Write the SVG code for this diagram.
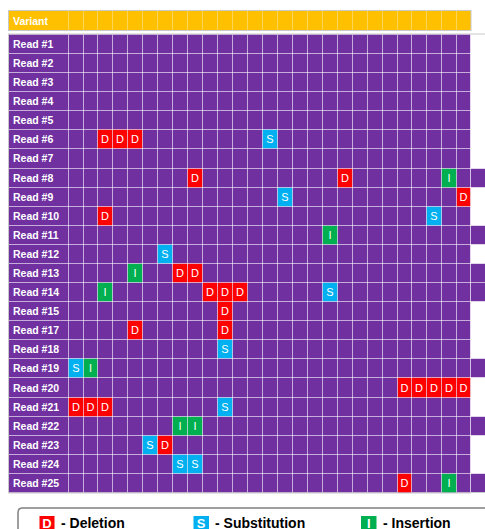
<svg xmlns="http://www.w3.org/2000/svg" width="485" height="529" viewBox="0 0 485 529">
<style>
.bg{fill:#7030A0}
.hdr{fill:#FFC000}
.d{fill:#FF0000}
.s{fill:#00B0F0}
.i{fill:#00B050}
.grid{stroke:#FFFFFF;stroke-opacity:0.6;stroke-width:1;fill:none}
.hgrid{stroke:#FFFFFF;stroke-opacity:0.35;stroke-width:1;fill:none}
.frame{stroke:#C8C8C8;stroke-width:1;fill:none}
.lbl{font-family:"Liberation Sans",Arial,sans-serif;font-weight:bold;font-size:10.5px;fill:#FFFFFF}
.m{font-family:"Liberation Sans",Arial,sans-serif;font-size:11px;fill:#FFFFFF;text-anchor:middle}
.lg{font-family:"Liberation Sans",Arial,sans-serif;font-weight:bold;font-size:14px;fill:#000000}
.lgm{font-family:"Liberation Sans",Arial,sans-serif;font-weight:bold;font-size:13px;fill:#FFFFFF;text-anchor:middle}
</style>

<g id="header">
<rect class="hdr" x="9" y="11" width="462" height="19"/>
<path class="hgrid" d="M68.5 11V30M83.5 11V30M97.5 11V30M112.5 11V30M127.5 11V30M142.5 11V30M157.5 11V30M172.5 11V30M187.5 11V30M202.5 11V30M217.5 11V30M232.5 11V30M247.5 11V30M262.5 11V30M277.5 11V30M292.5 11V30M307.5 11V30M322.5 11V30M337.5 11V30M352.5 11V30M367.5 11V30M382.5 11V30M397.5 11V30M411.5 11V30M426.5 11V30M441.5 11V30M456.5 11V30"/>
<rect class="frame" x="8.5" y="10.5" width="462.5" height="20"/>
<text class="lbl" x="13" y="24.5">Variant</text>
</g>

<g id="grid-background">
<rect class="bg" x="9" y="34.5" width="461.5" height="458"/>
<rect class="bg" x="470.5" y="168.5" width="15" height="19"/>
<rect class="bg" x="470.5" y="225.5" width="15" height="19"/>
<rect class="bg" x="470.5" y="263.5" width="15" height="38"/>
<rect class="bg" x="470.5" y="358.5" width="15" height="19"/>
<rect class="bg" x="470.5" y="416.5" width="15" height="19"/>
<rect class="bg" x="470.5" y="473.5" width="15" height="19"/>
</g>

<g id="marks">
<g id="r6"><rect class="d" x="97.5" y="129.5" width="15" height="19"/><rect class="d" x="112.5" y="129.5" width="15" height="19"/><rect class="d" x="127.5" y="129.5" width="15" height="19"/><rect class="s" x="262.5" y="129.5" width="15" height="19"/></g>
<g id="r8"><rect class="d" x="187.5" y="168.5" width="15" height="19"/><rect class="d" x="337.5" y="168.5" width="15" height="19"/><rect class="i" x="441.5" y="168.5" width="15" height="19"/></g>
<g id="r9"><rect class="s" x="277.5" y="187.5" width="15" height="19"/><rect class="d" x="456.5" y="187.5" width="14" height="19"/></g>
<g id="r10"><rect class="d" x="97.5" y="206.5" width="15" height="19"/><rect class="s" x="426.5" y="206.5" width="15" height="19"/></g>
<g id="r11"><rect class="i" x="322.5" y="225.5" width="15" height="19"/></g>
<g id="r12"><rect class="s" x="157.5" y="244.5" width="15" height="19"/></g>
<g id="r13"><rect class="i" x="127.5" y="263.5" width="15" height="19"/><rect class="d" x="172.5" y="263.5" width="15" height="19"/><rect class="d" x="187.5" y="263.5" width="15" height="19"/></g>
<g id="r14"><rect class="i" x="97.5" y="282.5" width="15" height="19"/><rect class="d" x="202.5" y="282.5" width="15" height="19"/><rect class="d" x="217.5" y="282.5" width="15" height="19"/><rect class="d" x="232.5" y="282.5" width="15" height="19"/><rect class="s" x="322.5" y="282.5" width="15" height="19"/></g>
<g id="r15"><rect class="d" x="217.5" y="301.5" width="15" height="19"/></g>
<g id="r17"><rect class="d" x="127.5" y="320.5" width="15" height="19"/><rect class="d" x="217.5" y="320.5" width="15" height="19"/></g>
<g id="r18"><rect class="s" x="217.5" y="339.5" width="15" height="19"/></g>
<g id="r19"><rect class="s" x="68.5" y="358.5" width="15" height="19"/><rect class="i" x="83.5" y="358.5" width="14" height="19"/></g>
<g id="r20"><rect class="d" x="397.5" y="377.5" width="14" height="20"/><rect class="d" x="411.5" y="377.5" width="15" height="20"/><rect class="d" x="426.5" y="377.5" width="15" height="20"/><rect class="d" x="441.5" y="377.5" width="15" height="20"/><rect class="d" x="456.5" y="377.5" width="14" height="20"/></g>
<g id="r21"><rect class="d" x="68.5" y="397.5" width="15" height="19"/><rect class="d" x="83.5" y="397.5" width="14" height="19"/><rect class="d" x="97.5" y="397.5" width="15" height="19"/><rect class="s" x="217.5" y="397.5" width="15" height="19"/></g>
<g id="r22"><rect class="i" x="172.5" y="416.5" width="15" height="19"/><rect class="i" x="187.5" y="416.5" width="15" height="19"/></g>
<g id="r23"><rect class="s" x="142.5" y="435.5" width="15" height="19"/><rect class="d" x="157.5" y="435.5" width="15" height="19"/></g>
<g id="r24"><rect class="s" x="172.5" y="454.5" width="15" height="19"/><rect class="s" x="187.5" y="454.5" width="15" height="19"/></g>
<g id="r25"><rect class="d" x="397.5" y="473.5" width="14" height="19"/><rect class="i" x="441.5" y="473.5" width="15" height="19"/></g>
</g>

<g id="gridlines">
<path class="grid" d="M68.5 34.5V492.5M83.5 34.5V492.5M97.5 34.5V492.5M112.5 34.5V492.5M127.5 34.5V492.5M142.5 34.5V492.5M157.5 34.5V492.5M172.5 34.5V492.5M187.5 34.5V492.5M202.5 34.5V492.5M217.5 34.5V492.5M232.5 34.5V492.5M247.5 34.5V492.5M262.5 34.5V492.5M277.5 34.5V492.5M292.5 34.5V492.5M307.5 34.5V492.5M322.5 34.5V492.5M337.5 34.5V492.5M352.5 34.5V492.5M367.5 34.5V492.5M382.5 34.5V492.5M397.5 34.5V492.5M411.5 34.5V492.5M426.5 34.5V492.5M441.5 34.5V492.5M456.5 34.5V492.5M470.5 34.5V492.5"/>
<path class="grid" d="M9 53.5H470.5M9 72.5H470.5M9 91.5H470.5M9 110.5H470.5M9 129.5H470.5M9 148.5H470.5M9 168.5H485M9 187.5H485M9 206.5H470.5M9 225.5H485M9 244.5H485M9 263.5H485M9 282.5H485M9 301.5H485M9 320.5H470.5M9 339.5H470.5M9 358.5H485M9 377.5H485M9 397.5H470.5M9 416.5H485M9 435.5H485M9 454.5H470.5M9 473.5H485"/>
</g>

<g id="frame">
<path class="frame" d="M8 34H485M8.5 34V493H470.5M470.5 492.5H485"/>
</g>

<g id="labels">
<text class="lbl" x="13" y="48">Read #1</text>
<text class="lbl" x="13" y="67">Read #2</text>
<text class="lbl" x="13" y="86">Read #3</text>
<text class="lbl" x="13" y="105">Read #4</text>
<text class="lbl" x="13" y="124">Read #5</text>
<text class="lbl" x="13" y="143">Read #6</text>
<text class="lbl" x="13" y="162">Read #7</text>
<text class="lbl" x="13" y="182">Read #8</text>
<text class="lbl" x="13" y="201">Read #9</text>
<text class="lbl" x="13" y="220">Read #10</text>
<text class="lbl" x="13" y="239">Read #11</text>
<text class="lbl" x="13" y="258">Read #12</text>
<text class="lbl" x="13" y="277">Read #13</text>
<text class="lbl" x="13" y="296">Read #14</text>
<text class="lbl" x="13" y="315">Read #15</text>
<text class="lbl" x="13" y="334">Read #17</text>
<text class="lbl" x="13" y="353">Read #18</text>
<text class="lbl" x="13" y="372">Read #19</text>
<text class="lbl" x="13" y="391.5">Read #20</text>
<text class="lbl" x="13" y="411">Read #21</text>
<text class="lbl" x="13" y="430">Read #22</text>
<text class="lbl" x="13" y="449">Read #23</text>
<text class="lbl" x="13" y="468">Read #24</text>
<text class="lbl" x="13" y="487">Read #25</text>
</g>

<g id="mark-letters">
<text class="m" x="105" y="143">D</text><text class="m" x="120" y="143">D</text><text class="m" x="135" y="143">D</text><text class="m" x="270" y="143">S</text>
<text class="m" x="195" y="182">D</text><text class="m" x="345" y="182">D</text><text class="m" x="449" y="182">I</text>
<text class="m" x="285" y="201">S</text><text class="m" x="463.5" y="201">D</text>
<text class="m" x="105" y="220">D</text><text class="m" x="434" y="220">S</text>
<text class="m" x="330" y="239">I</text>
<text class="m" x="165" y="258">S</text>
<text class="m" x="135" y="277">I</text><text class="m" x="180" y="277">D</text><text class="m" x="195" y="277">D</text>
<text class="m" x="105" y="296">I</text><text class="m" x="210" y="296">D</text><text class="m" x="225" y="296">D</text><text class="m" x="240" y="296">D</text><text class="m" x="330" y="296">S</text>
<text class="m" x="225" y="315">D</text>
<text class="m" x="135" y="334">D</text><text class="m" x="225" y="334">D</text>
<text class="m" x="225" y="353">S</text>
<text class="m" x="76" y="372">S</text><text class="m" x="90.5" y="372">I</text>
<text class="m" x="404.5" y="391.5">D</text><text class="m" x="419" y="391.5">D</text><text class="m" x="434" y="391.5">D</text><text class="m" x="449" y="391.5">D</text><text class="m" x="463.5" y="391.5">D</text>
<text class="m" x="76" y="411">D</text><text class="m" x="90.5" y="411">D</text><text class="m" x="105" y="411">D</text><text class="m" x="225" y="411">S</text>
<text class="m" x="180" y="430">I</text><text class="m" x="195" y="430">I</text>
<text class="m" x="150" y="449">S</text><text class="m" x="165" y="449">D</text>
<text class="m" x="180" y="468">S</text><text class="m" x="195" y="468">S</text>
<text class="m" x="404.5" y="487">D</text><text class="m" x="449" y="487">I</text>
</g>

<g id="legend">
<path d="M18 531V512.5Q18 508 22.5 508H486" fill="none" stroke="#7F7F7F" stroke-width="1.5"/>
<g id="legend-deletion"><rect class="d" x="39.5" y="516" width="15" height="15"/><text class="lgm" x="47" y="527.5">D</text><text class="lg" x="61" y="527.5">- Deletion</text></g>
<g id="legend-substitution"><rect class="s" x="193.5" y="516" width="15.5" height="15"/><text class="lgm" x="201.2" y="527.5">S</text><text class="lg" x="215" y="527.5">- Substitution</text></g>
<g id="legend-insertion"><rect class="i" x="361" y="516" width="15.5" height="15"/><text class="lgm" x="368.8" y="527.5">I</text><text class="lg" x="383" y="527.5">- Insertion</text></g>
</g>
</svg>
